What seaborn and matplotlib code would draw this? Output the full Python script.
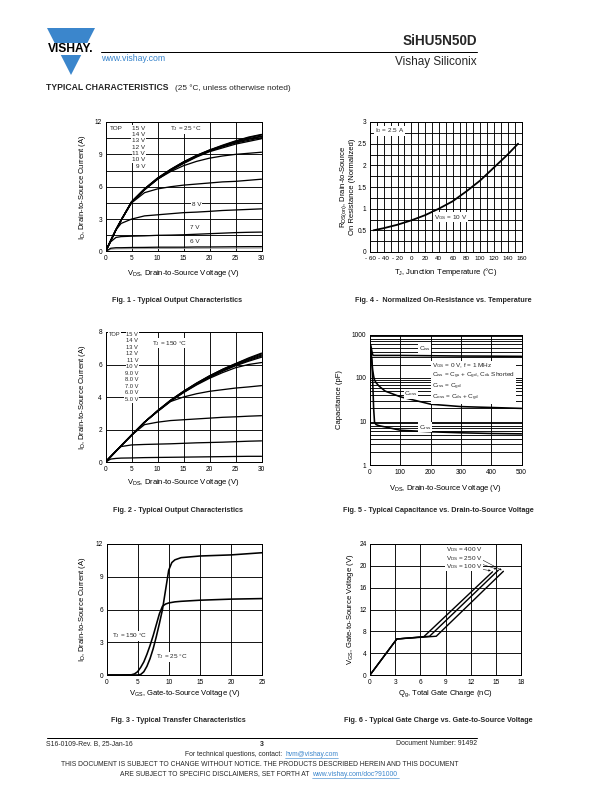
import matplotlib
matplotlib.use('Agg')
import matplotlib.pyplot as plt
from matplotlib.patches import Polygon, Rectangle
from matplotlib.ticker import FixedLocator, FixedFormatter, NullFormatter
import seaborn as sns

W, H = 612, 792

# ---- Fig. 1 : output characteristics, TJ = 25 C
vds_out = [0, 1, 2, 3, 5, 7.5, 10, 12.5, 15, 17.5, 20, 22.5, 25, 27.5, 30]
id25_15v = [0, 1.0, 2.0, 2.9, 4.6, 5.8, 6.8, 7.6, 8.3, 8.9, 9.4, 9.85, 10.25, 10.6, 10.85]
id25_14v = [0, 1.0, 2.0, 2.9, 4.6, 5.8, 6.8, 7.6, 8.3, 8.9, 9.4, 9.8, 10.2, 10.55, 10.8]
id25_13v = [0, 1.0, 2.0, 2.9, 4.6, 5.8, 6.75, 7.55, 8.25, 8.85, 9.35, 9.75, 10.15, 10.45, 10.7]
id25_12v = [0, 1.0, 2.0, 2.9, 4.55, 5.75, 6.75, 7.55, 8.25, 8.85, 9.35, 9.75, 10.1, 10.4, 10.65]
id25_11v = [0, 1.0, 2.0, 2.9, 4.55, 5.75, 6.7, 7.5, 8.2, 8.8, 9.3, 9.7, 10.05, 10.3, 10.55]
id25_10v = [0, 1.0, 2.0, 2.9, 4.55, 5.7, 6.7, 7.5, 8.15, 8.75, 9.25, 9.6, 9.95, 10.2, 10.45]
id25_9v = [0, 1.0, 2.0, 2.9, 4.55, 5.75, 6.7, 7.4, 7.95, 8.35, 8.65, 8.85, 9.0, 9.1, 9.2]
id25_c8 = [0, 1.0, 2.0, 2.9, 4.5, 5.45, 5.8, 6.0, 6.15, 6.25, 6.35, 6.45, 6.5, 6.6, 6.7]
id25_c7 = [0, 1.0, 2.0, 2.6, 3.0, 3.3, 3.4, 3.5, 3.6, 3.65, 3.72, 3.8, 3.85, 3.9, 3.95]
id25_c6 = [0, 0.9, 1.3, 1.38, 1.42, 1.45, 1.5, 1.52, 1.55, 1.6, 1.65, 1.7, 1.75, 1.78, 1.8]
id25_c5 = [0, 0.3, 0.35, 0.35, 0.37, 0.38, 0.4, 0.4, 0.4, 0.42, 0.42, 0.43, 0.44, 0.45, 0.45]
id25_c4 = [0, 0.2, 0.24, 0.25, 0.26, 0.27, 0.28, 0.28, 0.29, 0.29, 0.3, 0.3, 0.31, 0.31, 0.32]
fig1_top = ['15 V', '14 V', '13 V', '12 V', '11 V', '10 V', '9 V']

# ---- Fig. 2 : output characteristics, TJ = 150 C
id150_15v = [0, 0.33, 0.66, 1.0, 1.65, 2.45, 3.15, 3.8, 4.35, 4.85, 5.3, 5.7, 6.05, 6.4, 6.7]
id150_14v = [0, 0.33, 0.66, 1.0, 1.65, 2.45, 3.15, 3.8, 4.35, 4.85, 5.3, 5.7, 6.05, 6.35, 6.65]
id150_13v = [0, 0.33, 0.66, 1.0, 1.65, 2.45, 3.15, 3.78, 4.33, 4.82, 5.27, 5.66, 6.0, 6.3, 6.58]
id150_12v = [0, 0.33, 0.66, 1.0, 1.65, 2.45, 3.13, 3.76, 4.3, 4.8, 5.24, 5.62, 5.96, 6.25, 6.52]
id150_11v = [0, 0.33, 0.66, 1.0, 1.65, 2.45, 3.12, 3.75, 4.28, 4.77, 5.2, 5.58, 5.92, 6.2, 6.45]
id150_10v = [0, 0.33, 0.66, 1.0, 1.65, 2.45, 3.12, 3.74, 4.27, 4.74, 5.15, 5.5, 5.8, 6.0, 6.12]
id150_c9 = [0, 0.33, 0.66, 1.0, 1.65, 2.45, 3.1, 3.72, 4.0, 4.2, 4.35, 4.45, 4.55, 4.62, 4.7]
id150_c8 = [0, 0.33, 0.66, 1.0, 1.65, 2.3, 2.45, 2.55, 2.6, 2.65, 2.7, 2.75, 2.78, 2.82, 2.85]
id150_c7 = [0, 0.33, 0.66, 0.95, 1.05, 1.08, 1.1, 1.12, 1.15, 1.18, 1.2, 1.22, 1.25, 1.28, 1.3]
id150_c6 = [0, 0.18, 0.22, 0.24, 0.25, 0.27, 0.28, 0.29, 0.3, 0.31, 0.32, 0.33, 0.34, 0.35, 0.35]
fig2_top = ['15 V', '14 V', '13 V', '12 V', '11 V', '10 V', '9.0 V', '8.0 V', '7.0 V', '6.0 V', '5.0 V']

# ---- Fig. 3 : transfer characteristics
vgs_tr = [0, 2, 4, 4.5, 5, 5.5, 6, 6.5, 7, 7.5, 8, 8.5, 9, 9.5, 10, 10.5, 11, 12, 15, 20, 25]
id_tr_25c = [0, 0, 0, 0, 0, 0.05, 0.3, 0.8, 1.5, 2.4, 3.5, 4.7, 6.0, 7.8, 9.6, 10.3, 10.55, 10.75, 10.9, 11.0, 11.2]
id_tr_150c = [0, 0, 0.02, 0.1, 0.3, 0.7, 1.2, 1.9, 2.7, 3.6, 4.6, 5.6, 6.3, 6.5, 6.6, 6.65, 6.7, 6.75, 6.85, 6.95, 7.0]

# ---- Fig. 4 : normalized on-resistance
tj = [-55, -40, -20, 0, 20, 40, 60, 80, 100, 120, 140, 155]
rds_norm = [0.5, 0.55, 0.63, 0.73, 0.85, 1.0, 1.17, 1.4, 1.65, 1.95, 2.25, 2.5]
tj_ticks = [-60, -40, -20, 0, 20, 40, 60, 80, 100, 120, 140, 160]
tj_labels = ['- 60', '- 40', '- 20', '0', '20', '40', '60', '80', '100', '120', '140', '160']

# ---- Fig. 5 : capacitance
vds_cap = [0, 3, 6, 9, 12, 15, 20, 30, 50, 100, 200, 300, 400, 500]
c_iss = [620, 550, 420, 340, 330, 330, 330, 330, 330, 330, 325, 320, 318, 315]
c_oss = [500, 420, 250, 150, 110, 90, 78, 65, 50, 37, 25, 22, 21, 20]
c_rss = [450, 400, 250, 80, 20, 9.5, 8.5, 8.0, 7.5, 6.3, 5.8, 5.5, 5.3, 5.2]

# ---- Fig. 6 : gate charge
qg_100v = [0, 3.2, 6.4, 14.6]
vgs_100v = [0, 6.6, 7.0, 18.9]
qg_250v = [0, 3.2, 7.1, 15.3]
vgs_250v = [0, 6.6, 7.1, 19.2]
qg_400v = [0, 3.2, 7.9, 15.9]
vgs_400v = [0, 6.6, 7.1, 19.0]

sns.set_theme(style='white')
plt.rcParams['font.family'] = ['Liberation Sans', 'DejaVu Sans']
plt.rcParams['mathtext.fontset'] = 'custom'
plt.rcParams['mathtext.rm'] = 'Liberation Sans'
plt.rcParams['mathtext.it'] = 'Liberation Sans:italic'
plt.rcParams['mathtext.bf'] = 'Liberation Sans:bold'

fig = plt.figure(figsize=(W / 72, H / 72), dpi=72)
fig.patch.set_facecolor('white')

# page layer in pixel coordinates
page = fig.add_axes([0, 0, 1, 1])
page.set_xlim(0, W)
page.set_ylim(H, 0)
page.axis('off')

blue = '#3b86cc'
page.add_patch(Polygon([(47, 28), (95, 28), (71, 75)], closed=True, color=blue, lw=0))
page.add_patch(Rectangle((43, 42.5), 56, 12, color='white', lw=0))
page.text(70.5, 49, 'VISHAY.', fontsize=12, fontweight='bold', ha='center', va='center', color='black')
page.text(101, 58.5, 'www.vishay.com', fontsize=8.7, color=blue, ha='left', va='center')
page.plot([101, 477], [52, 52], color='black', lw=1)
page.text(477, 41, 'SiHU5N50D', fontsize=13.5, fontweight='bold', ha='right', va='center')
page.text(477, 62.5, 'Vishay Siliconix', fontsize=11.8, ha='right', va='center')
page.text(46, 88, 'TYPICAL CHARACTERISTICS', fontsize=8.6, fontweight='bold', ha='left', va='center')
page.text(175, 88, '(25 °C, unless otherwise noted)', fontsize=8.2, ha='left', va='center')

page.plot([47, 477], [737.5, 737.5], color='black', lw=1)
page.text(46, 743.5, 'S16-0109-Rev. B, 25-Jan-16', fontsize=6.9, ha='left', va='center')
page.text(262, 744, '3', fontsize=7, fontweight='bold', ha='center', va='center')
page.text(477, 743.5, 'Document Number: 91492', fontsize=6.9, ha='right', va='center')
page.text(284, 754, 'For technical questions, contact: ', fontsize=6.8, ha='right', va='center')
page.text(285, 754, 'hvm@vishay.com', fontsize=6.8, ha='left', va='center', color=blue)
page.plot([285, 338], [758, 758], color=blue, lw=0.6)
page.text(260, 765, 'THIS DOCUMENT IS SUBJECT TO CHANGE WITHOUT NOTICE. THE PRODUCTS DESCRIBED HEREIN AND THIS DOCUMENT',
          fontsize=6.7, ha='center', va='center')
page.text(311, 774, 'ARE SUBJECT TO SPECIFIC DISCLAIMERS, SET FORTH AT ', fontsize=6.7, ha='right', va='center')
page.text(312, 774, 'www.vishay.com/doc?91000', fontsize=6.7, ha='left', va='center', color=blue)
page.plot([312, 399], [778, 778], color=blue, lw=0.6)

captions = [
    (177, 300, 'Fig. 1 - Typical Output Characteristics'),
    (443, 300, 'Fig. 4 -  Normalized On-Resistance vs. Temperature'),
    (178, 510, 'Fig. 2 - Typical Output Characteristics'),
    (438, 510, 'Fig. 5 - Typical Capacitance vs. Drain-to-Source Voltage'),
    (178, 721, 'Fig. 3 - Typical Transfer Characteristics'),
    (438, 721, 'Fig. 6 - Typical Gate Charge vs. Gate-to-Source Voltage'),
]
for cx, cy, txt in captions:
    page.text(cx, cy, txt, fontsize=7.3, fontweight='bold', ha='center', va='center')


def make_axes(left, top, right, bottom):
    ax = fig.add_axes([left / W, 1 - bottom / H, (right - left) / W, (bottom - top) / H])
    ax.set_facecolor('white')
    for s in ax.spines.values():
        s.set_color('black')
        s.set_linewidth(1.0)
        s.set_visible(True)
    ax.tick_params(length=0, labelsize=6.5, pad=3.5, colors='black')
    return ax


def style_grid(ax, xgrid, ygrid, lw=0.9):
    for g in xgrid:
        ax.axvline(g, color='black', lw=lw, zorder=1)
    for g in ygrid:
        ax.axhline(g, color='black', lw=lw, zorder=1)


def labels(ax, xl, yl, xpos, ypos):
    ax.set_xlabel(xl, fontsize=7.6, color='black')
    ax.set_ylabel(yl, fontsize=7.6, color='black', linespacing=1.05)
    ax.xaxis.set_label_coords(0.5, xpos)
    ax.yaxis.set_label_coords(ypos, 0.5)
    ax.xaxis.label.set_va('center')
    ax.yaxis.label.set_va('center')


box = dict(facecolor='white', edgecolor='none', pad=0.6)
fs = 6.4
lab_ds = r'V$_{\mathrm{DS}}$, Drain-to-Source Voltage (V)'
lab_id = r'I$_{\mathrm{D}}$, Drain-to-Source Current (A)'

# ---------------- Fig. 1
ax1 = make_axes(105.5, 122, 261.5, 251.5)
style_grid(ax1, [5, 10, 15, 20, 25], [1.5, 3, 4.5, 6, 7.5, 9, 10.5])
for ys in [id25_15v, id25_14v, id25_13v, id25_12v, id25_11v, id25_10v, id25_9v,
           id25_c8, id25_c7, id25_c6, id25_c5]:
    sns.lineplot(x=vds_out, y=ys, ax=ax1, color='black', lw=1.3, estimator=None, zorder=3)
sns.lineplot(x=vds_out, y=id25_c4, ax=ax1, color='#999999', lw=1.0, estimator=None, zorder=2)
ax1.set_xlim(0, 30)
ax1.set_ylim(0, 12)
ax1.set_xticks([0, 5, 10, 15, 20, 25, 30])
ax1.set_yticks([0, 3, 6, 9, 12])
labels(ax1, lab_ds, lab_id, -0.17, -0.145)
ax1.text(0.9, 11.4, 'TOP', fontsize=fs, va='center', ha='left', zorder=5, bbox=box)
for i, t in enumerate(fig1_top):
    ax1.text(7.6, 11.4 - i * 0.58, t, fontsize=fs, va='center', ha='right', zorder=5, bbox=box)
ax1.text(15.5, 11.4, r'T$_{\mathrm{J}}$ = 25 °C', fontsize=fs, va='center', ha='center', zorder=5, bbox=box)
ax1.text(17.5, 4.4, '8 V', fontsize=fs, va='center', ha='center', zorder=5, bbox=box)
ax1.text(17.2, 2.2, '7 V', fontsize=fs, va='center', ha='center', zorder=5, bbox=box)
ax1.text(17.2, 0.95, '6 V', fontsize=fs, va='center', ha='center', zorder=5, bbox=box)

# ---------------- Fig. 4
ax4 = make_axes(370, 122, 521.5, 252)
style_grid(ax4, list(range(-50, 160, 10)), [0.25 * k for k in range(1, 12)], lw=0.9)
sns.lineplot(x=tj, y=rds_norm, ax=ax4, color='black', lw=1.8, estimator=None, zorder=3)
ax4.set_xlim(-60, 160)
ax4.set_ylim(0, 3)
ax4.xaxis.set_major_locator(FixedLocator(tj_ticks))
ax4.xaxis.set_major_formatter(FixedFormatter(tj_labels))
ax4.tick_params(axis='x', labelsize=6.2)
ax4.set_yticks([0, 0.5, 1, 1.5, 2, 2.5, 3])
ax4.set_yticklabels(['0', '0.5', '1', '1.5', '2', '2.5', '3'])
labels(ax4, r'T$_{\mathrm{J}}$, Junction Temperature (°C)',
       'R$_{\\mathrm{DS(on)}}$, Drain-to-Source\nOn Resistance (Normalized)', -0.155, -0.15)
ax4.text(-53, 2.8, r'I$_{\mathrm{D}}$ = 2.5 A', fontsize=fs, va='center', ha='left', zorder=5, bbox=box)
ax4.text(57, 0.8, r'V$_{\mathrm{GS}}$ = 10 V', fontsize=fs, va='center', ha='center', zorder=5, bbox=box)

# ---------------- Fig. 2
ax2 = make_axes(105.5, 332, 261.5, 462)
style_grid(ax2, [5, 10, 15, 20, 25], [2, 4, 6])
for ys in [id150_15v, id150_14v, id150_13v, id150_12v, id150_11v, id150_10v,
           id150_c9, id150_c8, id150_c7, id150_c6]:
    sns.lineplot(x=vds_out, y=ys, ax=ax2, color='black', lw=1.3, estimator=None, zorder=3)
ax2.set_xlim(0, 30)
ax2.set_ylim(0, 8)
ax2.set_xticks([0, 5, 10, 15, 20, 25, 30])
ax2.set_yticks([0, 2, 4, 6, 8])
labels(ax2, lab_ds, lab_id, -0.16, -0.145)
ax2.text(0.6, 7.85, 'TOP', fontsize=5.8, va='center', ha='left', zorder=5, bbox=box)
for i, t in enumerate(fig2_top):
    ax2.text(6.3, 7.85 - i * 0.4, t, fontsize=5.8, va='center', ha='right', zorder=5, bbox=box)
ax2.text(12.3, 7.3, r'T$_{\mathrm{J}}$ = 150 °C', fontsize=fs, va='center', ha='center', zorder=5, bbox=box)

# ---------------- Fig. 5
ax5 = make_axes(370, 334.5, 521.5, 465)
ax5.set_yscale('log')
minor = [m * d for d in [1, 10, 100] for m in range(2, 10)]
style_grid(ax5, [100, 200, 300, 400], [10, 100] + minor, lw=0.9)
for ys in [c_iss, c_oss, c_rss]:
    sns.lineplot(x=vds_cap, y=ys, ax=ax5, color='black', lw=1.6, estimator=None, zorder=3)
ax5.set_xlim(0, 500)
ax5.set_ylim(1, 1000)
ax5.yaxis.set_major_locator(FixedLocator([1, 10, 100, 1000]))
ax5.yaxis.set_major_formatter(FixedFormatter(['1', '10', '100', '1000']))
ax5.yaxis.set_minor_formatter(NullFormatter())
ax5.tick_params(which='minor', length=0)
ax5.set_xticks([0, 100, 200, 300, 400, 500])
labels(ax5, lab_ds, 'Capacitance (pF)', -0.18, -0.2)
ax5.text(181, 480, r'C$_{\mathrm{iss}}$', fontsize=fs, va='center', ha='center', zorder=5, bbox=box)
ax5.text(135, 43, r'C$_{\mathrm{oss}}$', fontsize=fs, va='center', ha='center', zorder=5, bbox=box)
ax5.text(181, 7.4, r'C$_{\mathrm{rss}}$', fontsize=fs, va='center', ha='center', zorder=5, bbox=box)
cap_note = '\n'.join([
    r'V$_{\mathrm{GS}}$ = 0 V, f = 1 MHz',
    r'C$_{\mathrm{iss}}$ = C$_{\mathrm{gs}}$ + C$_{\mathrm{gd}}$, C$_{\mathrm{ds}}$ Shorted',
    r'C$_{\mathrm{rss}}$ = C$_{\mathrm{gd}}$',
    r'C$_{\mathrm{oss}}$ = C$_{\mathrm{ds}}$ + C$_{\mathrm{gd}}$',
])
ax5.text(205, 245, cap_note, fontsize=fs, va='top', ha='left', zorder=5, linespacing=1.15,
         bbox=dict(facecolor='white', edgecolor='none', pad=0.8))

# ---------------- Fig. 3
ax3 = make_axes(106.5, 544, 262, 675)
style_grid(ax3, [5, 10, 15, 20], [3, 6, 9])
sns.lineplot(x=vgs_tr, y=id_tr_25c, ax=ax3, color='black', lw=1.6, estimator=None, zorder=3)
sns.lineplot(x=vgs_tr, y=id_tr_150c, ax=ax3, color='black', lw=1.6, estimator=None, zorder=3)
ax3.set_xlim(0, 25)
ax3.set_ylim(0, 12)
ax3.set_xticks([0, 5, 10, 15, 20, 25])
ax3.set_yticks([0, 3, 6, 9, 12])
labels(ax3, r'V$_{\mathrm{GS}}$, Gate-to-Source Voltage (V)', lab_id, -0.145, -0.155)
ax3.text(0.9, 3.6, r'T$_{\mathrm{J}}$ = 150 °C', fontsize=fs, va='center', ha='left', zorder=5, bbox=box)
ax3.text(8.0, 1.65, r'T$_{\mathrm{J}}$ = 25 °C', fontsize=fs, va='center', ha='left', zorder=5, bbox=box)

# ---------------- Fig. 6
ax6 = make_axes(370, 544, 521, 675)
style_grid(ax6, [3, 6, 9, 12, 15], [4, 8, 12, 16, 20])
for xs, ys in [(qg_100v, vgs_100v), (qg_250v, vgs_250v), (qg_400v, vgs_400v)]:
    sns.lineplot(x=xs, y=ys, ax=ax6, color='black', lw=1.4, estimator=None, sort=False, zorder=3)
ax6.set_xlim(0, 18)
ax6.set_ylim(0, 24)
ax6.set_xticks([0, 3, 6, 9, 12, 15, 18])
ax6.set_yticks([0, 4, 8, 12, 16, 20, 24])
labels(ax6, r'Q$_{\mathrm{g}}$, Total Gate Charge (nC)',
       r'V$_{\mathrm{GS}}$, Gate-to-Source Voltage (V)', -0.145, -0.13)
vds_notes = [(22.9, r'V$_{\mathrm{DS}}$ = 400 V', qg_400v, vgs_400v),
             (21.4, r'V$_{\mathrm{DS}}$ = 250 V', qg_250v, vgs_250v),
             (19.9, r'V$_{\mathrm{DS}}$ = 100 V', qg_100v, vgs_100v)]
for yv, t, xs, ys in vds_notes:
    ax6.annotate(t, xy=(xs[-1] - 0.2, ys[-1] + 0.2), xytext=(9.0, yv), fontsize=fs,
                 va='center', ha='left', zorder=5, bbox=box,
                 arrowprops=dict(arrowstyle='-|>', color='black', lw=0.5, mutation_scale=4,
                                 shrinkA=0, shrinkB=0))

fig.savefig('out.png', dpi=72, facecolor='white')
